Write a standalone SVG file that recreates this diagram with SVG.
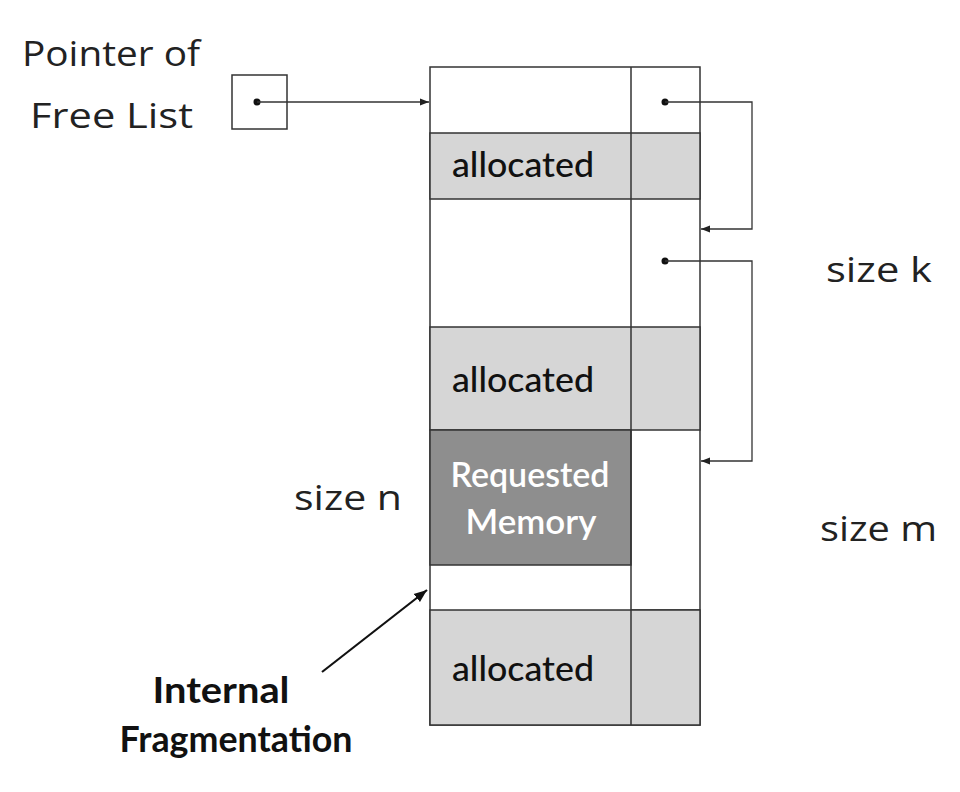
<svg xmlns="http://www.w3.org/2000/svg" width="960" height="792" viewBox="0 0 960 792">
<defs>
<style>
.ln{stroke:#333;stroke-width:1.3;fill:none}
.cell{stroke:#333;stroke-width:1.5}
.lbl{font-family:"Open Sans","DejaVu Sans",sans-serif;font-weight:400;fill:#222;font-size:34px}
.alloc{font-family:Lato,"Liberation Sans",sans-serif;font-weight:500;fill:#111;font-size:34px}
.req{font-family:Lato,"Liberation Sans",sans-serif;font-weight:600;fill:#fff;font-size:34px;text-anchor:middle}
.frag{font-family:Lato,"Liberation Sans",sans-serif;font-weight:700;fill:#111;font-size:37px;text-anchor:middle}
</style>
<marker id="ah" viewBox="0 0 10 10" refX="10" refY="5" markerWidth="9" markerHeight="9" markerUnits="userSpaceOnUse" orient="auto"><path d="M0,1 L10,5 L0,9 Z" fill="#222"/></marker>
<marker id="ah2" viewBox="0 0 10 10" refX="10" refY="5" markerWidth="13" markerHeight="13" markerUnits="userSpaceOnUse" orient="auto"><path d="M0,1 L10,5 L0,9 Z" fill="#111"/></marker>
</defs>
<rect width="960" height="792" fill="#fff"/>
<g id="pointer">
<rect x="232" y="75" width="55" height="54" fill="#fff" class="cell"/>
<circle cx="257" cy="102" r="3.5" fill="#111"/>
<text class="lbl" x="22" y="66" textLength="178" lengthAdjust="spacingAndGlyphs">Pointer of</text>
<text class="lbl" x="30" y="128" textLength="163" lengthAdjust="spacingAndGlyphs">Free List</text>
</g>
<g id="memory">
<rect x="430" y="67" width="270" height="658" fill="#fff" class="cell"/>
<rect x="430" y="133" width="270" height="66" fill="#d6d6d6" class="cell"/>
<rect x="430" y="327" width="270" height="103" fill="#d6d6d6" class="cell"/>
<rect x="430" y="430" width="201" height="135" fill="#8e8e8e" class="cell"/>
<line x1="631" y1="610" x2="700" y2="610" class="cell"/>
<rect x="430" y="610" width="270" height="115" fill="#d6d6d6" class="cell"/>
<line x1="631" y1="67" x2="631" y2="725" class="cell"/>
<circle cx="665" cy="102" r="3.5" fill="#111"/>
<circle cx="665" cy="261" r="3.5" fill="#111"/>
<text class="alloc" x="452" y="177" textLength="142" lengthAdjust="spacingAndGlyphs">allocated</text>
<text class="alloc" x="452" y="392" textLength="142" lengthAdjust="spacingAndGlyphs">allocated</text>
<text class="alloc" x="452" y="681" textLength="142" lengthAdjust="spacingAndGlyphs">allocated</text>
<text class="req" x="530" y="487" textLength="159" lengthAdjust="spacingAndGlyphs">Requested</text>
<text class="req" x="531" y="534" textLength="131" lengthAdjust="spacingAndGlyphs">Memory</text>
</g>
<g id="labels">
<text class="lbl" x="826" y="282" textLength="106" lengthAdjust="spacingAndGlyphs">size k</text>
<text class="lbl" x="294" y="510" textLength="108" lengthAdjust="spacingAndGlyphs">size n</text>
<text class="lbl" x="820" y="541" textLength="117" lengthAdjust="spacingAndGlyphs">size m</text>
<text class="frag" x="221" y="703" textLength="137" lengthAdjust="spacingAndGlyphs">Internal</text>
<text class="frag" x="236" y="752" textLength="233" lengthAdjust="spacingAndGlyphs">Fragmentation</text>
</g>
<g id="connectors">
<line x1="257" y1="102" x2="429" y2="102" class="ln" marker-end="url(#ah)"/>
<polyline points="665,102 752,102 752,229 701,229" class="ln" marker-end="url(#ah)"/>
<polyline points="665,261 752,261 752,461 701,461" class="ln" marker-end="url(#ah)"/>
<line x1="322" y1="672" x2="427" y2="590" stroke="#111" stroke-width="2.2" marker-end="url(#ah2)"/>
</g>
</svg>
